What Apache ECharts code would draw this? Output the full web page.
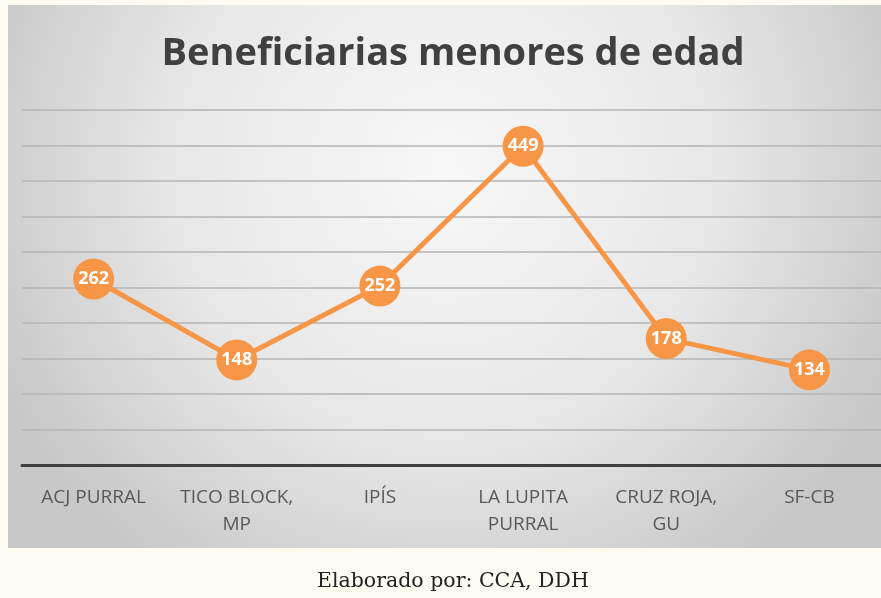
<!DOCTYPE html>
<html>
<head>
<meta charset="utf-8">
<script src="https://cdn.jsdelivr.net/npm/echarts@6/dist/echarts.min.js"></script>
<style>
  html, body { margin: 0; padding: 0; background: #fefcf3; }
  #chart { width: 881px; height: 598px; }
</style>
</head>
<body>
<div id="chart"></div>
<script>
var categories = ['ACJ PURRAL', 'TICO BLOCK,\nMP', 'IPÍS', 'LA LUPITA\nPURRAL', 'CRUZ ROJA,\nGU', 'SF-CB'];
var beneficiarias = [262, 148, 252, 449, 178, 134];
var titleText = 'Beneficiarias menores de edad';
var footerText = 'Elaborado por: CCA, DDH';

var myChart = echarts.init(document.getElementById('chart'));

var option = {
    backgroundColor: 'transparent',
    title: {
        text: titleText,
        left: 448,
        textAlign: 'center',
        top: 30,
        textStyle: {
            fontFamily: 'Open Sans',
            fontWeight: 'bold',
            fontSize: 38,
            color: '#404040'
        }
    },
    graphic: [{
        type: 'rect',
        z: -10,
        shape: { x: 8, y: 5, width: 873, height: 543 },
        style: {
            fill: {
                type: 'radial', x: 0.5, y: 0.3, r: 0.9,
                colorStops: [
                    { offset: 0, color: '#f8f8f8' },
                    { offset: 0.55, color: '#e8e8e8' },
                    { offset: 1, color: '#c8c8c8' }
                ]
            }
        }
    }, {
        type: 'text',
        left: 317,
        top: 571,
        style: {
            text: footerText,
            font: '20.5px "DejaVu Serif"',
            fill: '#222'
        }
    }],
    grid: {
        left: 22,
        top: 110,
        width: 861,
        height: 355
    },
    xAxis: {
        type: 'category',
        data: categories,
        axisTick: { show: false },
        axisLine: { lineStyle: { color: '#404040', width: 3 } },
        axisLabel: {
            interval: 0,
            margin: 19,
            fontFamily: 'Open Sans',
            fontSize: 19,
            color: '#595959',
            lineHeight: 27
        }
    },
    yAxis: {
        type: 'value',
        min: 0,
        max: 500,
        interval: 50,
        axisLabel: { show: false },
        axisLine: { show: false },
        axisTick: { show: false },
        splitLine: { lineStyle: { color: '#b4b4b4', width: 1.5 } }
    },
    series: [{
        type: 'line',
        data: beneficiarias,
        symbol: 'circle',
        symbolSize: 41,
        lineStyle: { color: '#f79646', width: 5 },
        itemStyle: { color: '#f79646' },
        label: {
            show: true,
            position: 'inside',
            color: '#fff',
            fontFamily: 'Open Sans',
            fontWeight: 'bold',
            fontSize: 18
        }
    }]
};
myChart.setOption(option);
</script>
</body>
</html>
